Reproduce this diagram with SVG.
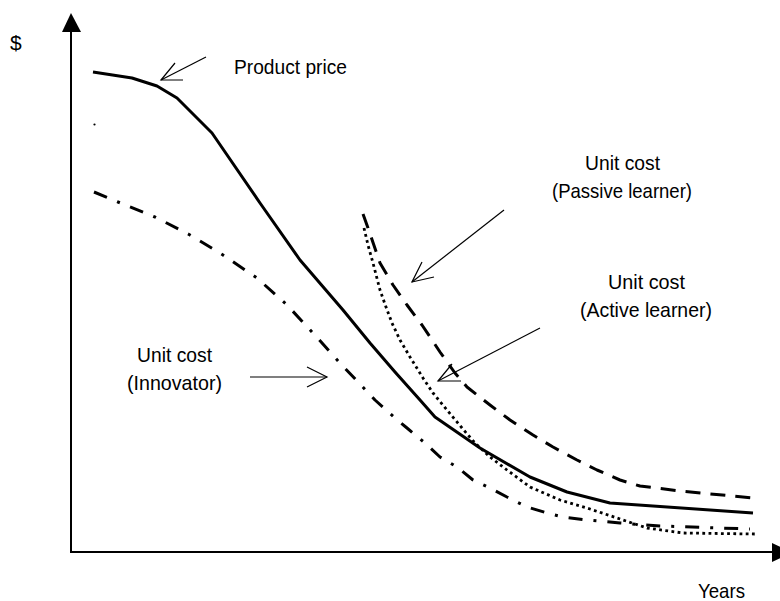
<svg xmlns="http://www.w3.org/2000/svg" width="780" height="601" viewBox="0 0 780 601">
<style>
.lbl{font-family:"Liberation Sans",Arial,sans-serif;font-size:21px;fill:#000}
.axis{stroke:#000;stroke-width:2;fill:none}
.curve{fill:none;stroke:#000;stroke-width:3;stroke-linejoin:round}
.solid{}
.dashed{stroke-dasharray:15 10}
.dotted{stroke-width:2.8;stroke-dasharray:2.8 3.4}
.dashdot{stroke-dasharray:14 11 3 11}
.ptr{fill:none;stroke:#000;stroke-width:1.2}
</style>
<rect width="780" height="601" fill="#fff"/>
<g id="axes">
<line class="axis" x1="71" y1="30" x2="71" y2="552"/>
<line class="axis" x1="70" y1="552" x2="774" y2="552"/>
<polygon points="71,13 62,32 81,32" fill="#000"/>
<polygon points="792,552.5 772,543 772,562" fill="#000"/>
<text class="lbl" x="10" y="50">$</text>
<text class="lbl" x="698" y="598" textLength="47" lengthAdjust="spacingAndGlyphs">Years</text>
<circle cx="94.5" cy="124.5" r="1.1" fill="#000"/>
</g>
<g id="connectors">
<polyline id="price-curve" class="curve solid" points="93,72 132,78 157,86 177,98 212,133 260,203 300,260 343,310 370,343 395,372 420,400 435,417 480,448 530,477 567,492 610,503 753,513"/>
<polyline id="innovator-curve" class="curve dashdot" points="94,192 118,202 155,217 190,235 223,255 257,278 287,305 313,333 340,363 358,382 375,400 395,418 407,428 425,443 440,457 457,467 473,480 490,488 507,497 527,507 547,513 563,517 587,520 620,523 660,526 750,529"/>
<polyline id="passive-curve" class="curve dashed" points="363,214 368,228 380,263 393,285 407,305 422,325 440,352 455,373 467,387 490,405 510,420 533,435 553,447 577,460 597,470 620,480 640,486 680,491 753,498"/>
<polyline id="active-curve" class="curve dotted" points="364,228 368,245 373,263 380,290 386,307 392,323 400,340 410,357 423,378 433,393 447,410 462,428 475,443 490,457 507,470 530,487 560,500 587,508 617,518 647,528 683,533 755,534"/>
<g id="pointers">
<line class="ptr" x1="206" y1="57" x2="161" y2="80"/>
<polyline class="ptr" points="175,63 161,80 183,80"/>
<line class="ptr" x1="504" y1="210" x2="412" y2="282"/>
<polyline class="ptr" points="422,262 412,282 434,277"/>
<line class="ptr" x1="540" y1="328" x2="438" y2="381"/>
<polyline class="ptr" points="452,364 438,381 461,381"/>
<line class="ptr" x1="250" y1="377" x2="327" y2="377"/>
<polyline class="ptr" points="307,367 327,377 307,387"/>
</g>
</g>
<g id="node-price">
<text class="lbl" x="234" y="73.5" textLength="113" lengthAdjust="spacingAndGlyphs">Product price</text>
</g>
<g id="node-passive">
<text class="lbl" x="585" y="169.5" textLength="75" lengthAdjust="spacingAndGlyphs">Unit cost</text>
<text class="lbl" x="552" y="197.5" textLength="140" lengthAdjust="spacingAndGlyphs">(Passive learner)</text>
</g>
<g id="node-active">
<text class="lbl" x="608" y="288.5" textLength="77" lengthAdjust="spacingAndGlyphs">Unit cost</text>
<text class="lbl" x="580" y="317" textLength="132" lengthAdjust="spacingAndGlyphs">(Active learner)</text>
</g>
<g id="node-innovator">
<text class="lbl" x="137" y="361.5" textLength="75" lengthAdjust="spacingAndGlyphs">Unit cost</text>
<text class="lbl" x="127" y="389.5" textLength="95" lengthAdjust="spacingAndGlyphs">(Innovator)</text>
</g>
</svg>
